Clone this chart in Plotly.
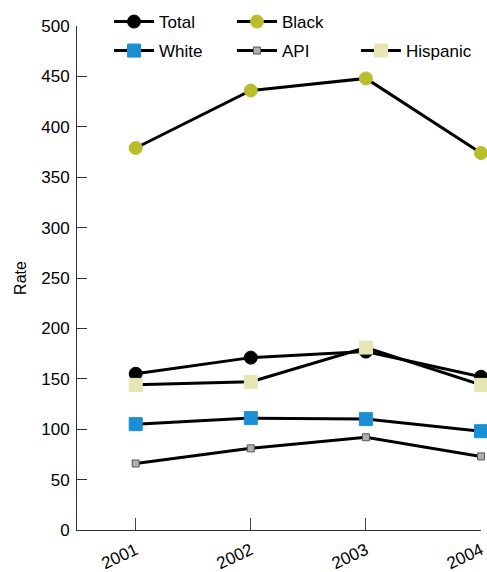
import plotly.graph_objects as go

years = [2001, 2002, 2003, 2004]
year_labels = ["2001", "2002", "2003", "2004"]
total = [155, 171, 177, 152]
black = [379, 436, 448, 374]
white = [105, 111, 110, 98]
api = [66, 81, 92, 73]
hispanic = [144, 147, 181, 144]

fig = go.Figure()

def add(name, vals, symbol, color, size, lc, legend):
    fig.add_trace(go.Scatter(
        x=years, y=vals, name=name, mode="lines+markers",
        line=dict(color="black", width=3),
        marker=dict(symbol=symbol, color=color, size=size, line=dict(color=lc, width=1)),
        cliponaxis=False, legend=legend))

add("Total", total, "circle", "black", 13, "black", "legend")
add("Black", black, "circle", "#b9bd2c", 13, "#b9bd2c", "legend")
add("White", white, "square", "#1a8fd4", 13, "#1a8fd4", "legend2")
add("API", api, "square", "#b0b0b0", 7, "#555555", "legend2")
add("Hispanic", hispanic, "square", "#e6e6b4", 13, "#e6e6b4", "legend3")

W, H = 487, 572
font = dict(family="Liberation Sans, Arial, sans-serif", size=17, color="black")

def leg(x, y, ew):
    return dict(orientation="h", xref="container", yref="container", x=x / W, y=1 - y / H,
                xanchor="left", yanchor="middle", entrywidth=ew, entrywidthmode="pixels",
                font=dict(size=17), bgcolor="rgba(0,0,0,0)", itemwidth=40)

fig.update_layout(
    width=W, height=H,
    margin=dict(l=77, r=6, t=26, b=42, autoexpand=False),
    plot_bgcolor="white", paper_bgcolor="white",
    font=font,
    showlegend=True,
    legend=leg(109, 22, 68),
    legend2=leg(109, 51, 68),
    legend3=leg(356, 51, 100),
    xaxis=dict(range=[2000.49, 2004], tickvals=years, ticktext=year_labels,
               tickangle=-25, ticks="inside", ticklen=12, tickcolor="#444",
               ticklabelstandoff=3,
               showline=True, linecolor="#333", linewidth=1, showgrid=False, zeroline=False,
               tickfont=dict(size=17)),
    yaxis=dict(range=[0, 500], tickvals=[0, 50, 100, 150, 200, 250, 300, 350, 400, 450, 500],
               ticks="inside", ticklen=10, tickcolor="#333", ticklabelstandoff=3,
               showline=True, linecolor="#333", linewidth=1, showgrid=False, zeroline=False,
               title=dict(text="Rate", font=dict(size=16), standoff=10), tickfont=dict(size=17)),
)

fig.write_html("out.html", config={"displayModeBar": False},
               post_script="document.body.style.margin='0';document.body.style.overflow='hidden';")
